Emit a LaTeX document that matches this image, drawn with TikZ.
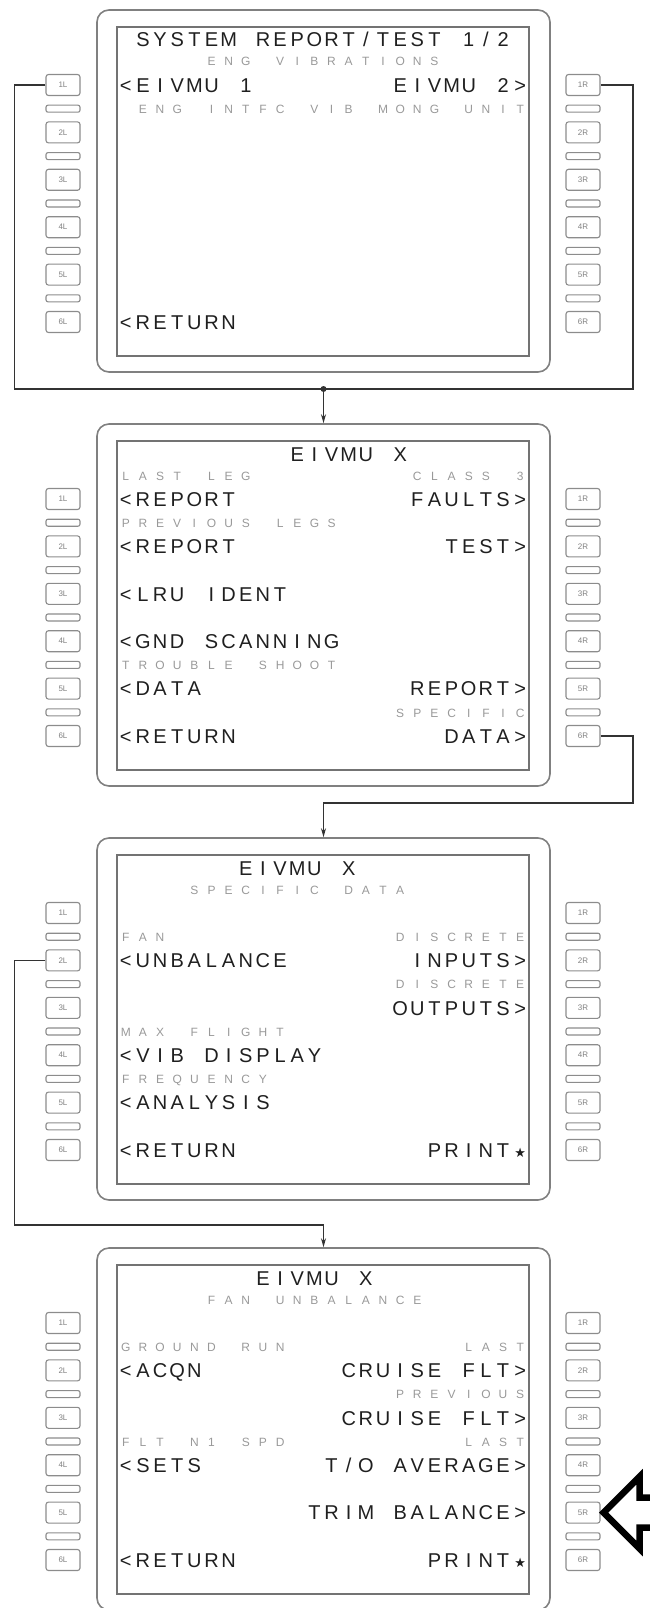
\documentclass[tikz,border=0pt]{standalone}
\usepackage{fontspec}
\usetikzlibrary{arrows.meta}
\newfontfamily\mcdufont{Liberation Sans}
\newfontfamily\symfont{DejaVu Sans}
\newcommand\prstar{{\fontsize{13}{13}\symfont ★}}

% every character of a screen line sits in its own cell of the 24-column grid
\newlength\mcducell
\setlength\mcducell{17.15pt}
\ExplSyntaxOn
\NewDocumentCommand\cells{m}{
  \seq_set_split:Nnn \l_tmpa_seq {~} {#1}
  \seq_map_indexed_inline:Nn \l_tmpa_seq
    {
      \int_compare:nNnT {##1} > {1} { \hspace*{\mcducell} }
      \tl_map_inline:nn {##2} { \makebox[\mcducell][c]{####1} }
    }
}
\ExplSyntaxOff

\tikzset{
  big/.style={anchor=base west, inner sep=0pt, text=black!88, font=\fontsize{20}{20}\mcdufont},
  lbl/.style={anchor=base west, inner sep=0pt, text=black!40, font=\fontsize{12}{12}\mcdufont},
  lsk/.style={draw=black!45, line width=1.1pt, rounded corners=2.5pt, minimum width=34pt,
    minimum height=21pt, inner sep=0pt, text=black!50, font=\fontsize{8}{8}\mcdufont},
  sepbar/.style={draw=black!45, line width=1.1pt, rounded corners=2pt, minimum width=34pt,
    minimum height=7pt, inner sep=0pt},
  bezel/.style={draw=black!50, line width=1.6pt, rounded corners=12pt, minimum width=453pt,
    minimum height=362pt, inner sep=0pt},
  screen/.style={draw=black!55, line width=2.2pt, minimum width=412pt, minimum height=329pt, inner sep=0pt},
  link/.style={draw=black!80, line width=1.2pt},
}

% one display unit: bezel, screen and the line select keys
\newcommand\mcdu[2]{%
  \node[bezel] (#1) at (323.5,#2+106) {};
  \node[screen] (#1scr) at (323,#2+106.5) {};
  \foreach \i in {1,...,6} {
    \node[lsk] (#1L\i) at (63,{#2+47.4*(\i-1)}) {\i L};
    \node[lsk] (#1R\i) at (583,{#2+47.4*(\i-1)}) {\i R};
  }
  \foreach \i in {1,...,5} {
    \node[sepbar] (#1sl\i) at (63,{#2+47.4*\i-23.7}) {};
    \node[sepbar] (#1sr\i) at (583,{#2+47.4*\i-23.7}) {};
  }
}

\begin{document}
\begin{tikzpicture}[x=1pt, y=-1pt, >={Stealth[length=9pt,width=5pt]}]
  \useasboundingbox (0,0) rectangle (649,1608);
  \mcdu{a}{85}
  \mcdu{b}{499}
  \mcdu{c}{913}
  \mcdu{d}{1323}

  % system report / test
  \begin{scope}[shift={(117,85)}, x=17.15pt]
    \node[big] (aT) at (1,-38) {\cells{SYSTEM REPORT/TEST 1/2}};
    \node[lbl] (aH1) at (5,-19) {\cells{ENG VIBRATIONS}};
    \node[big] (aL1t) at (0,7.2) {\cells{<EIVMU 1}};
    \node[big] (aR1t) at (16,7.2) {\cells{EIVMU 2>}};
    \node[lbl] (aH2) at (1,28.4) {\cells{ENG INTFC VIB MONG UNIT}};
    \node[big] (aL6t) at (0,244.2) {\cells{<RETURN}};
  \end{scope}

  % eivmu menu
  \begin{scope}[shift={(117,499)}, x=17.15pt]
    \node[big] (bT) at (10,-38) {\cells{EIVMU X}};
    \node[lbl] (bH1l) at (0,-19) {\cells{LAST LEG}};
    \node[lbl] (bH1r) at (17,-19) {\cells{CLASS 3}};
    \node[big] (bL1t) at (0,7.2) {\cells{<REPORT}};
    \node[big] (bR1t) at (17,7.2) {\cells{FAULTS>}};
    \node[lbl] (bH2l) at (0,28.4) {\cells{PREVIOUS LEGS}};
    \node[big] (bL2t) at (0,54.6) {\cells{<REPORT}};
    \node[big] (bR2t) at (19,54.6) {\cells{TEST>}};
    \node[big] (bL3t) at (0,102) {\cells{<LRU IDENT}};
    \node[big] (bL4t) at (0,149.4) {\cells{<GND SCANNING}};
    \node[lbl] (bH5l) at (0,170.6) {\cells{TROUBLE SHOOT}};
    \node[big] (bL5t) at (0,196.8) {\cells{<DATA}};
    \node[big] (bR5t) at (17,196.8) {\cells{REPORT>}};
    \node[lbl] (bH6r) at (16,218) {\cells{SPECIFIC}};
    \node[big] (bL6t) at (0,244.2) {\cells{<RETURN}};
    \node[big] (bR6t) at (19,244.2) {\cells{DATA>}};
  \end{scope}

  % specific data
  \begin{scope}[shift={(117,913)}, x=17.15pt]
    \node[big] (cT) at (7,-38) {\cells{EIVMU X}};
    \node[lbl] (cH1) at (4,-19) {\cells{SPECIFIC DATA}};
    \node[lbl] (cH2l) at (0,28.4) {\cells{FAN}};
    \node[lbl] (cH2r) at (16,28.4) {\cells{DISCRETE}};
    \node[big] (cL2t) at (0,54.6) {\cells{<UNBALANCE}};
    \node[big] (cR2t) at (17,54.6) {\cells{INPUTS>}};
    \node[lbl] (cH3r) at (16,75.8) {\cells{DISCRETE}};
    \node[big] (cR3t) at (16,102) {\cells{OUTPUTS>}};
    \node[lbl] (cH4l) at (0,123.2) {\cells{MAX FLIGHT}};
    \node[big] (cL4t) at (0,149.4) {\cells{<VIB DISPLAY}};
    \node[lbl] (cH5l) at (0,170.6) {\cells{FREQUENCY}};
    \node[big] (cL5t) at (0,196.8) {\cells{<ANALYSIS}};
    \node[big] (cL6t) at (0,244.2) {\cells{<RETURN}};
    \node[big] (cR6t) at (18,244.2) {\cells{PRINT\prstar}};
  \end{scope}

  % fan unbalance
  \begin{scope}[shift={(117,1323)}, x=17.15pt]
    \node[big] (dT) at (8,-38) {\cells{EIVMU X}};
    \node[lbl] (dH1) at (5,-19) {\cells{FAN UNBALANCE}};
    \node[lbl] (dH2l) at (0,28.4) {\cells{GROUND RUN}};
    \node[lbl] (dH2r) at (20,28.4) {\cells{LAST}};
    \node[big] (dL2t) at (0,54.6) {\cells{<ACQN}};
    \node[big] (dR2t) at (13,54.6) {\cells{CRUISE FLT>}};
    \node[lbl] (dH3r) at (16,75.8) {\cells{PREVIOUS}};
    \node[big] (dR3t) at (13,102) {\cells{CRUISE FLT>}};
    \node[lbl] (dH4l) at (0,123.2) {\cells{FLT N1 SPD}};
    \node[lbl] (dH4r) at (20,123.2) {\cells{LAST}};
    \node[big] (dL4t) at (0,149.4) {\cells{<SETS}};
    \node[big] (dR4t) at (12,149.4) {\cells{T/O AVERAGE>}};
    \node[big] (dR5t) at (11,196.8) {\cells{TRIM BALANCE>}};
    \node[big] (dL6t) at (0,244.2) {\cells{<RETURN}};
    \node[big] (dR6t) at (18,244.2) {\cells{PRINT\prstar}};
  \end{scope}

  % links between pages
  \coordinate (j1) at (323.5,389);
  \coordinate (j1l) at (14.5,389);
  \coordinate (j1r) at (633,389);
  \draw[link] (aL1.west) -| (j1l) -- (j1r) |- (aR1.east);
  \fill[black!80] (j1) circle (3);
  \draw[link,->] (j1) -- (b.north);

  \coordinate (k1) at (633,803);
  \draw[link,->] (bR6.east) -| (k1) -| (c.north);

  \coordinate (l1) at (14.5,1225);
  \draw[link,->] (cL2.west) -| (l1) -| (d.north);

  % pointer on 5R
  \draw[line width=6.5pt] ([xshift=3pt]dR5.east) ++(56,-15) -- ++(-20,0) -- ++(0,-21)
    -- ([xshift=3pt]dR5.east) -- ++(36,36) -- ++(0,-21) -- ++(20,0);
\end{tikzpicture}
\end{document}
